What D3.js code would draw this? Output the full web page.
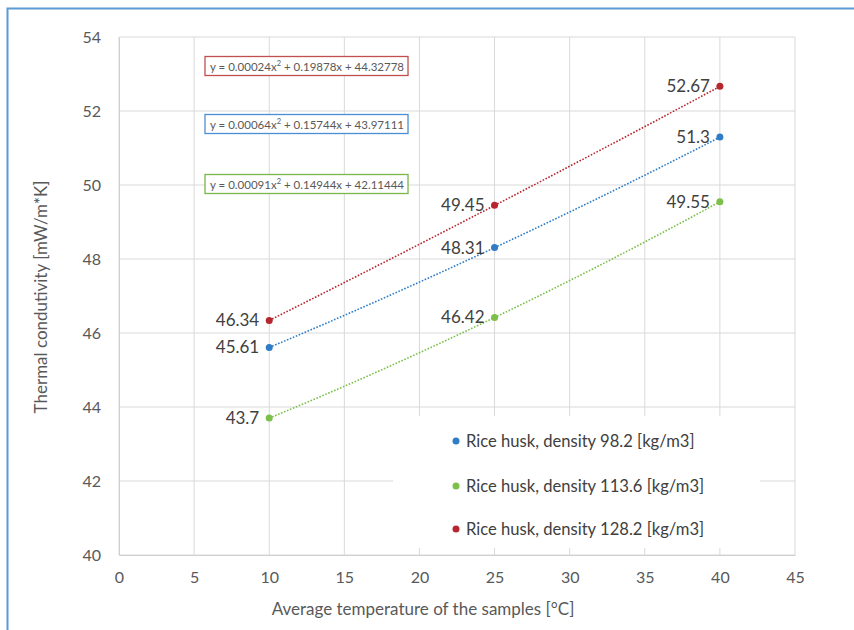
<!DOCTYPE html>
<html>
<head>
  <title>Thermal conductivity</title>
  <script src="https://d3js.org/d3.v7.min.js"></script>
  <style>
    body { margin: 0; background: #fff; }
    text { font-family: Lato, "Open Sans", sans-serif; }
  </style>
</head>
<body>
<div id="chart"></div>
<script>
  // data
  const temps = [10, 25, 40];
  const seriesNames = [
    "Rice husk, density 98.2 [kg/m3]",
    "Rice husk, density 113.6 [kg/m3]",
    "Rice husk, density 128.2 [kg/m3]"
  ];
  const valuesBlue = [45.61, 48.31, 51.3];
  const valuesGreen = [43.7, 46.42, 49.55];
  const valuesRed = [46.34, 49.45, 52.67];
  // trendline coefficients [a, b, c] : y = a x^2 + b x + c
  const fitBlue = [0.00064, 0.15744, 43.97111];
  const fitGreen = [0.00091, 0.14944, 42.11444];
  const fitRed = [0.00024, 0.19878, 44.32778];
  const xTicks = [0, 5, 10, 15, 20, 25, 30, 35, 40, 45];
  const yTicks = [40, 42, 44, 46, 48, 50, 52, 54];

  const width = 854, height = 630;
  const plotLeft = 119, plotRight = 795, plotTop = 37, plotBottom = 555;

  const colors = { blue: "#2e7dc6", green: "#7cbf4a", red: "#b5262e" };
  const boxColors = { blue: "#4a8fd6", green: "#7ab648", red: "#c0504d" };

  const series = [
    { name: seriesNames[0], values: valuesBlue, fit: fitBlue, color: colors.blue, box: boxColors.blue, eqY: 124 },
    { name: seriesNames[1], values: valuesGreen, fit: fitGreen, color: colors.green, box: boxColors.green, eqY: 184 },
    { name: seriesNames[2], values: valuesRed, fit: fitRed, color: colors.red, box: boxColors.red, eqY: 66 }
  ];

  const svg = d3.select("#chart")
          .append("svg")
          .attr("width", width)
          .attr("height", height);

  // outer frame (top and left edges only are visible)
  svg.append("path")
          .attr("d", `M7.5,${height}V8.5H${width}`)
          .attr("fill", "none")
          .attr("stroke", "#5b9bd5")
          .attr("stroke-width", 2);

  const x = d3.scaleLinear().domain([0, 45]).range([plotLeft, plotRight]);
  const y = d3.scaleLinear().domain([40, 54]).range([plotBottom, plotTop]);

  // grid
  svg.append("g")
          .selectAll("line")
          .data(yTicks)
          .join("line")
          .attr("x1", plotLeft).attr("x2", plotRight)
          .attr("y1", d => y(d)).attr("y2", d => y(d))
          .attr("stroke", "#d9d9d9");
  svg.append("g")
          .selectAll("line")
          .data(xTicks)
          .join("line")
          .attr("x1", d => x(d)).attr("x2", d => x(d))
          .attr("y1", plotTop).attr("y2", plotBottom)
          .attr("stroke", "#d9d9d9");

  // axes
  const xAxis = svg.append("g")
          .attr("transform", `translate(0,${plotBottom})`)
          .call(d3.axisBottom(x).tickValues(xTicks).tickSize(0).tickPadding(17));
  xAxis.select(".domain").attr("stroke", "#d0d0d0");
  const yAxis = svg.append("g")
          .attr("transform", `translate(${plotLeft},0)`)
          .call(d3.axisLeft(y).tickValues(yTicks).tickSize(0).tickPadding(18));
  yAxis.select(".domain").attr("stroke", "#d0d0d0");
  svg.selectAll(".tick text")
          .attr("font-size", 16)
          .attr("fill", "#595959")
          .style("font-family", "Lato, 'Open Sans', sans-serif");

  // axis titles
  svg.append("text")
          .attr("x", 423).attr("y", 615)
          .attr("text-anchor", "middle")
          .attr("font-size", 17)
          .attr("fill", "#595959")
          .text("Average temperature of the samples [°C]");
  svg.append("text")
          .attr("transform", "translate(47,297) rotate(-90)")
          .attr("text-anchor", "middle")
          .attr("font-size", 17)
          .attr("fill", "#595959")
          .text("Thermal condutivity [mW/m*K]");

  // legend background hides the grid behind it
  svg.append("rect")
          .attr("x", 393).attr("y", 416)
          .attr("width", 367).attr("height", 132)
          .attr("fill", "#fff");

  // trendlines
  const line = d3.line().x(d => x(d[0])).y(d => y(d[1]));
  series.forEach(s => {
    const xs = d3.range(temps[0], temps[2] + 0.01, 0.5);
    const pts = xs.map(t => [t, s.fit[0] * t * t + s.fit[1] * t + s.fit[2]]);
    svg.append("path")
            .attr("d", line(pts))
            .attr("fill", "none")
            .attr("stroke", s.color)
            .attr("stroke-width", 1.6)
            .attr("stroke-dasharray", "1.6,1.6");
  });

  // points and labels
  series.forEach(s => {
    const g = svg.append("g");
    g.selectAll("circle")
            .data(s.values)
            .join("circle")
            .attr("cx", (d, i) => x(temps[i]))
            .attr("cy", d => y(d))
            .attr("r", 3.5)
            .attr("fill", s.color);
    g.selectAll("text")
            .data(s.values)
            .join("text")
            .attr("x", (d, i) => x(temps[i]) - 10)
            .attr("y", d => y(d) + 6)
            .attr("text-anchor", "end")
            .attr("font-size", 17)
            .attr("fill", "#404040")
            .text(d => d);
  });

  // equation boxes
  series.forEach(s => {
    const [a, b, c] = s.fit;
    const g = svg.append("g").attr("transform", `translate(205,${s.eqY})`);
    const t = g.append("text")
            .attr("x", 5).attr("y", 4.5)
            .attr("font-size", 11.5)
            .attr("fill", "#595959");
    t.append("tspan").text(`y = ${a}x`);
    t.append("tspan").attr("dy", -4.5).attr("font-size", 7.5).text("2");
    t.append("tspan").attr("dy", 4.5).text(` + ${b}x + ${c}`);
    const w = t.node().getComputedTextLength() + 9;
    g.insert("rect", "text")
            .attr("x", 0).attr("y", -9.5)
            .attr("width", Math.max(w, 199)).attr("height", 19)
            .attr("fill", "#fff")
            .attr("stroke", s.box)
            .attr("stroke-width", 1.3);
  });

  // legend
  const legendY = [441, 486, 529];
  const legend = svg.append("g");
  series.forEach((s, i) => {
    legend.append("circle")
            .attr("cx", 456).attr("cy", legendY[i])
            .attr("r", 3.5)
            .attr("fill", s.color);
    legend.append("text")
            .attr("x", 466).attr("y", legendY[i] + 6)
            .attr("font-size", 16.6)
            .attr("fill", "#404040")
            .text(s.name);
  });
</script>
</body>
</html>
